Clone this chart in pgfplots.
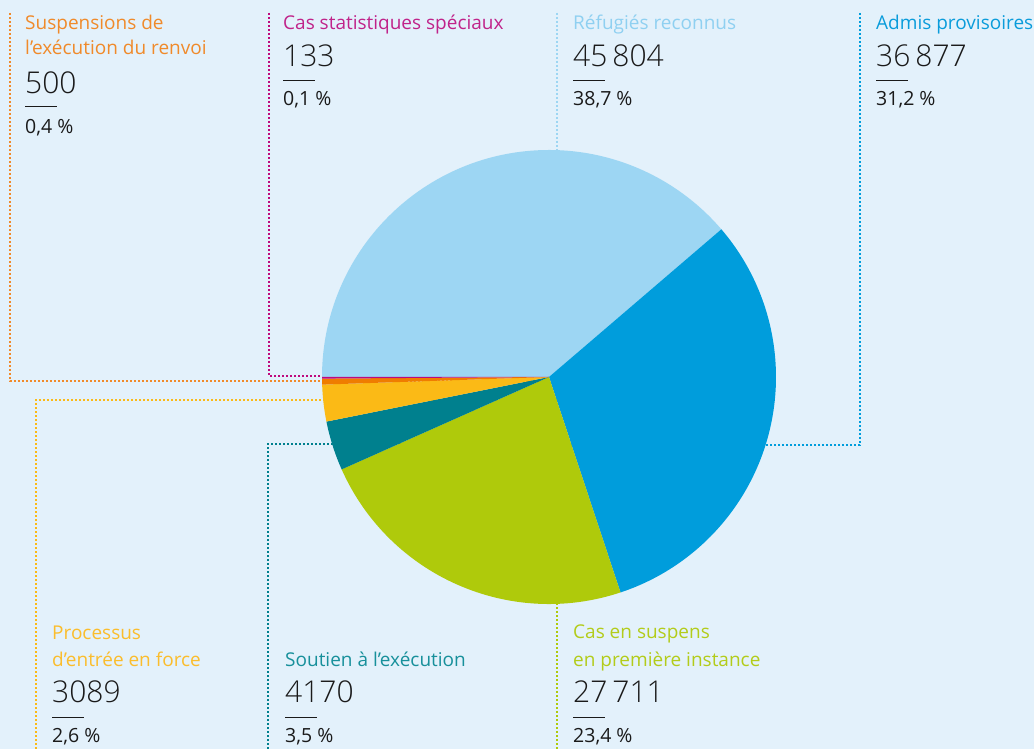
\documentclass[border=0pt]{standalone}
\usepackage{fontspec}
\setmainfont{Open Sans}
\newfontfamily\numfont{Open Sans Light}
\usepackage{pgfplots}
\usepackage{pgfplotstable}
\pgfplotsset{compat=1.18}

\definecolor{bg}{HTML}{E3F1FB}
\definecolor{pc0}{HTML}{9DD6F3}% Réfugiés reconnus
\definecolor{pc1}{HTML}{009DDC}% Admis provisoires
\definecolor{pc2}{HTML}{AFCA0B}% Cas en suspens
\definecolor{pc3}{HTML}{00808E}% Soutien à l'exécution
\definecolor{pc4}{HTML}{FBBA16}% Processus d'entrée en force
\definecolor{pc5}{HTML}{EF7D00}% Suspensions
\definecolor{pc6}{HTML}{BE0A7D}% Cas statistiques spéciaux
% label text is a touch lighter than the slices
\definecolor{tc0}{HTML}{8FD0F1}
\definecolor{tc1}{HTML}{0A9CDB}
\definecolor{tc2}{HTML}{B3CC1A}
\definecolor{tc3}{HTML}{17909B}
\definecolor{tc4}{HTML}{FBBD2C}
\definecolor{tc5}{HTML}{F08A2A}
\definecolor{tc6}{HTML}{C0238A}
\definecolor{txt}{HTML}{1A1A1A}

% slices in clockwise order, starting at 9 o'clock
\pgfplotstableread{
value
45804
36877
27711
4170
3089
500
133
}\piedata

% start and end angles of each slice (done here so no stray spaces reach the page)
\begingroup
\pgfkeys{/pgf/fpu=true, /pgf/fpu/output format=fixed}%
\gdef\total{0}%
\pgfplotstableforeachcolumnelement{value}\of\piedata\as\v{%
  \pgfmathsetmacro\t{\total+\v}\xdef\total{\t}}%
\gdef\cum{0}%
\pgfplotstableforeachcolumnelement{value}\of\piedata\as\v{%
  \pgfmathsetmacro\s{180-360*\cum/\total}%
  \pgfmathsetmacro\c{\cum+\v}\xdef\cum{\c}%
  \pgfmathsetmacro\e{180-360*\cum/\total}%
  \expandafter\xdef\csname sa\pgfplotstablerow\endcsname{\s}%
  \expandafter\xdef\csname ea\pgfplotstablerow\endcsname{\e}%
}%
\endgroup

\tikzset{
  dotline/.style={line width=2pt, dash pattern=on 2pt off 2pt},
  lab/.style={anchor=base west, inner sep=0pt, font=\fontsize{19}{23}\selectfont},
  num/.style={anchor=base west, inner sep=0pt, text=txt, font=\numfont\fontsize{30}{33}\selectfont},
  pct/.style={anchor=base west, inner sep=0pt, text=txt, font=\fontsize{19.5}{23}\selectfont},
}

\begin{document}
\begin{tikzpicture}
\begin{axis}[name=ax, x=1pt, y=1pt, xmin=0, xmax=1034, ymin=0, ymax=749,
  hide axis, clip=false]
\fill[bg] (axis cs:0,0) rectangle (axis cs:1034,749);

% connector lines
\draw[dotline, tc5] (axis cs:10,736) -- (axis cs:10,368) -- (axis cs:549,368);
\draw[dotline, pc6] (axis cs:269,736) -- (axis cs:269,373) -- (axis cs:549,373);
\draw[dotline, pc0] (axis cs:557,736) -- (axis cs:557,372);
\draw[dotline, pc1] (axis cs:860,736) -- (axis cs:860,304) -- (axis cs:549,304);
\draw[dotline, pc4] (axis cs:36,0) -- (axis cs:36,349) -- (axis cs:549,349);
\draw[dotline, pc3] (axis cs:268,0) -- (axis cs:268,305) -- (axis cs:549,305);
\draw[dotline, pc2] (axis cs:557,0) -- (axis cs:557,372);

% pie
\pgfplotsinvokeforeach{0,...,6}{
  \edef\temp{\noexpand\fill[pc#1] (axis cs:549,372) -- ++(\csname sa#1\endcsname:227pt)
    arc[start angle=\csname sa#1\endcsname, end angle=\csname ea#1\endcsname, radius=227pt] -- cycle;}
  \temp
}

% top labels
\node[lab, text=tc5] at (axis cs:25,719) {Suspensions de};
\node[lab, text=tc5] at (axis cs:25,694) {l’exécution du renvoi};
\node[num] at (axis cs:25,655) {500};
\draw[txt, line width=0.9pt] (axis cs:25,643) -- (axis cs:57,643);
\node[pct] at (axis cs:25,615) {0,4 \%};

\node[lab, text=tc6] at (axis cs:283,719) {Cas statistiques spéciaux};
\node[num] at (axis cs:283,682) {133};
\draw[txt, line width=0.9pt] (axis cs:283,669) -- (axis cs:315,669);
\node[pct] at (axis cs:283,643) {0,1 \%};

\node[lab, text=tc0] at (axis cs:573,719) {Réfugiés reconnus};
\node[num] at (axis cs:573,682) {45\,804};
\draw[txt, line width=0.9pt] (axis cs:573,669) -- (axis cs:605,669);
\node[pct] at (axis cs:573,643) {38,7 \%};

\node[lab, text=tc1] at (axis cs:876,719) {Admis provisoires};
\node[num] at (axis cs:876,682) {36\,877};
\draw[txt, line width=0.9pt] (axis cs:876,669) -- (axis cs:908,669);
\node[pct] at (axis cs:876,643) {31,2 \%};

% bottom labels
\node[lab, text=tc4] at (axis cs:52,109) {Processus};
\node[lab, text=tc4] at (axis cs:52,82) {d’entrée en force};
\node[num] at (axis cs:52,46) {3089};
\draw[txt, line width=0.9pt] (axis cs:52,32) -- (axis cs:84,32);
\node[pct] at (axis cs:52,6) {2,6 \%};

\node[lab, text=tc3] at (axis cs:285,82) {Soutien à l’exécution};
\node[num] at (axis cs:285,46) {4170};
\draw[txt, line width=0.9pt] (axis cs:285,32) -- (axis cs:317,32);
\node[pct] at (axis cs:285,6) {3,5 \%};

\node[lab, text=tc2] at (axis cs:573,110) {Cas en suspens};
\node[lab, text=tc2] at (axis cs:573,82) {en première instance};
\node[num] at (axis cs:573,46) {27\,711};
\draw[txt, line width=0.9pt] (axis cs:573,32) -- (axis cs:605,32);
\node[pct] at (axis cs:573,6) {23,4 \%};
\end{axis}
\pgfresetboundingbox
\path[use as bounding box] (ax.south west) rectangle (ax.north east);
\end{tikzpicture}
\end{document}
